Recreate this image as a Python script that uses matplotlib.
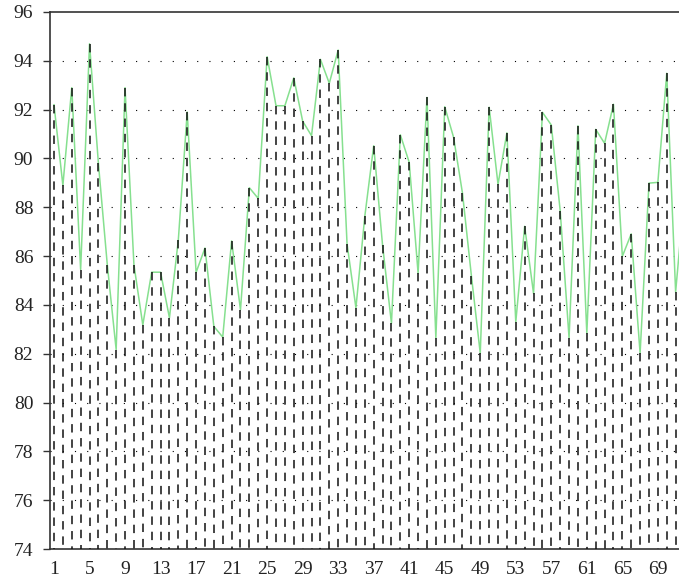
import numpy as np
import matplotlib.pyplot as plt

# values, one per sample (last one runs off the right edge)
values = [
    92.2, 88.9, 92.9, 85.45, 94.7, 89.8, 85.65, 82.17, 92.9, 85.65,
    83.18, 85.34, 85.34, 83.47, 86.66, 91.9, 85.33, 86.33, 83.12, 82.68,
    86.62, 83.8, 88.8, 88.36, 94.17, 92.16, 92.16, 93.3, 91.53, 90.93,
    94.06, 93.08, 94.44, 86.5, 83.88, 87.63, 90.52, 86.44, 83.25, 90.97,
    89.84, 85.3, 92.5, 82.65, 92.12, 90.86, 88.57, 85.2, 82.02, 92.1,
    88.94, 91.05, 83.3, 87.22, 84.47, 91.89, 91.37, 87.86, 82.65, 91.34,
    82.84, 91.19, 90.62, 92.22, 85.99, 86.91, 82.02, 88.99, 89.02, 93.49,
    84.53, 88.6,
]
x = np.arange(1, len(values) + 1)
x_ticks = list(range(1, 70, 4))
y_ticks = list(range(74, 97, 2))

plt.rcParams["font.family"] = ["Liberation Serif", "DejaVu Serif"]

fig = plt.figure(figsize=(6.79, 5.78), dpi=100)
ax = fig.add_axes([50 / 679, 29 / 578, 629 / 679, 537 / 578])

# horizontal dotted grid only
for yv in y_ticks[1:-1]:
    ax.axhline(yv, color="black", lw=0.8, ls=(0, (1, 10)), zorder=1)

ax.plot(x, values, color="#86E08F", lw=1.1, zorder=2)
# stems drawn top-down so each dash pattern starts at the data point
ax.vlines(x, values, 74, colors="#111111", lw=1.1,
          linestyles=[(0, (5.5, 4.5))], zorder=3)

ax.set_xlim(0.55, 71.38)
ax.set_ylim(74, 96)
ax.set_xticks(x_ticks)
ax.set_yticks(y_ticks)

for side in ("left", "top", "bottom"):
    ax.spines[side].set_linewidth(1.2)
    ax.spines[side].set_color("#333333")
ax.spines["right"].set_visible(False)

ax.tick_params(axis="y", length=5, width=1.0, pad=7, labelsize=14,
               color="#333333", labelcolor="#222222")
ax.tick_params(axis="x", length=0, pad=9, labelsize=14, labelcolor="#222222")

fig.savefig("out.png", dpi=100)
